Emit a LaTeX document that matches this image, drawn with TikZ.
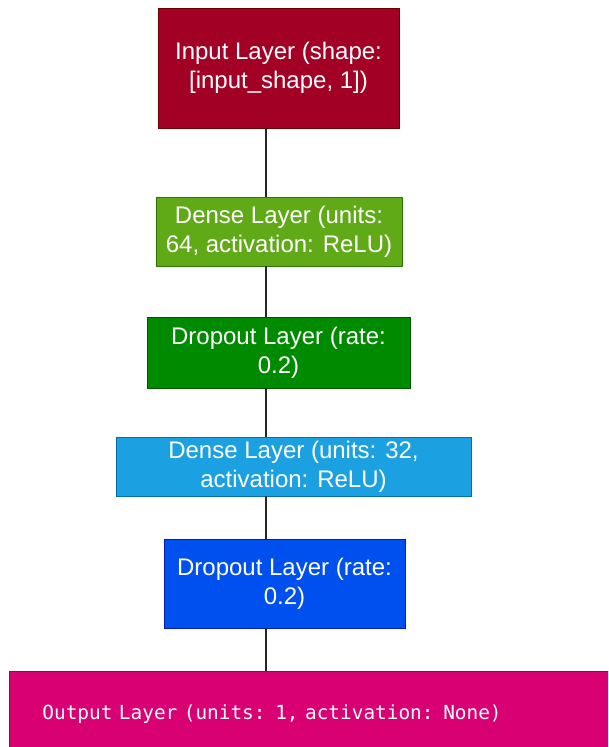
\documentclass[tikz,border=0pt]{standalone}
\usepackage{fontspec}
\setmainfont{Liberation Sans}
\newfontfamily\codefont{DejaVu Sans Mono}
\definecolor{inputfill}{HTML}{A20025}\definecolor{inputline}{HTML}{6F0000}
\definecolor{densefill}{HTML}{60A917}\definecolor{denseline}{HTML}{2D7600}
\definecolor{dropfill}{HTML}{008A00}\definecolor{dropline}{HTML}{005700}
\definecolor{densebfill}{HTML}{1BA1E2}\definecolor{densebline}{HTML}{006EAF}
\definecolor{dropbfill}{HTML}{0050EF}\definecolor{dropbline}{HTML}{001DBC}
\definecolor{outfill}{HTML}{D80073}\definecolor{outline}{HTML}{A50040}
\tikzset{
  layer/.style={draw, line width=0.9pt, text=white, align=center, inner xsep=4pt,
    font=\fontsize{24}{29}\selectfont},
  link/.style={line width=1.3pt, draw=black!85}
}
\newcommand\layerbox[5]{\node[layer, fill=#1fill, draw=#1line, minimum width=#3, minimum height=#4] (#2) at (#5)}

\begin{document}
\begin{tikzpicture}[x=1pt,y=-1pt]
\useasboundingbox (0,0) rectangle (608,747);
\clip (0,0) rectangle (608,747);
\fill[white] (0,0) rectangle (608,747);
\layerbox{input}{in}{241pt}{120pt}{278.5,68} {Input Layer (shape:\\ {[input\_shape, 1])}};
\layerbox{dense}{da}{246pt}{69pt}{279,231.5} {Dense Layer (units:\\ 64, activation: ReLU)};
\layerbox{drop}{pa}{263pt}{71pt}{278.5,352.5} {Dropout Layer (rate:\\ 0.2)};
\layerbox{denseb}{db}{355pt}{59pt}{293.5,466.5} {Dense Layer (units: 32,\\ activation: ReLU)};
\layerbox{dropb}{pb}{241pt}{89pt}{284.5,583.5} {Dropout Layer (rate:\\ 0.2)};
\node[layer, fill=outfill, draw=none, anchor=north west, text width=560pt, align=left,
  inner xsep=33pt, inner ysep=8pt, text height=40pt, text depth=40pt,
  font=\codefont\fontsize{19.4}{23}\selectfont] (out) at (9,671)
  {Output Layer (units: 1, activation: None)};
\draw[outline, line width=0.9pt] (out.south west) |- (out.north east);
\coordinate (spine) at (266,0);
\foreach \a/\b in {in/da,da/pa,pa/db,db/pb,pb/out}
  \draw[link] (\a.south -| spine) -- (\b.north -| spine);
\end{tikzpicture}
\end{document}
